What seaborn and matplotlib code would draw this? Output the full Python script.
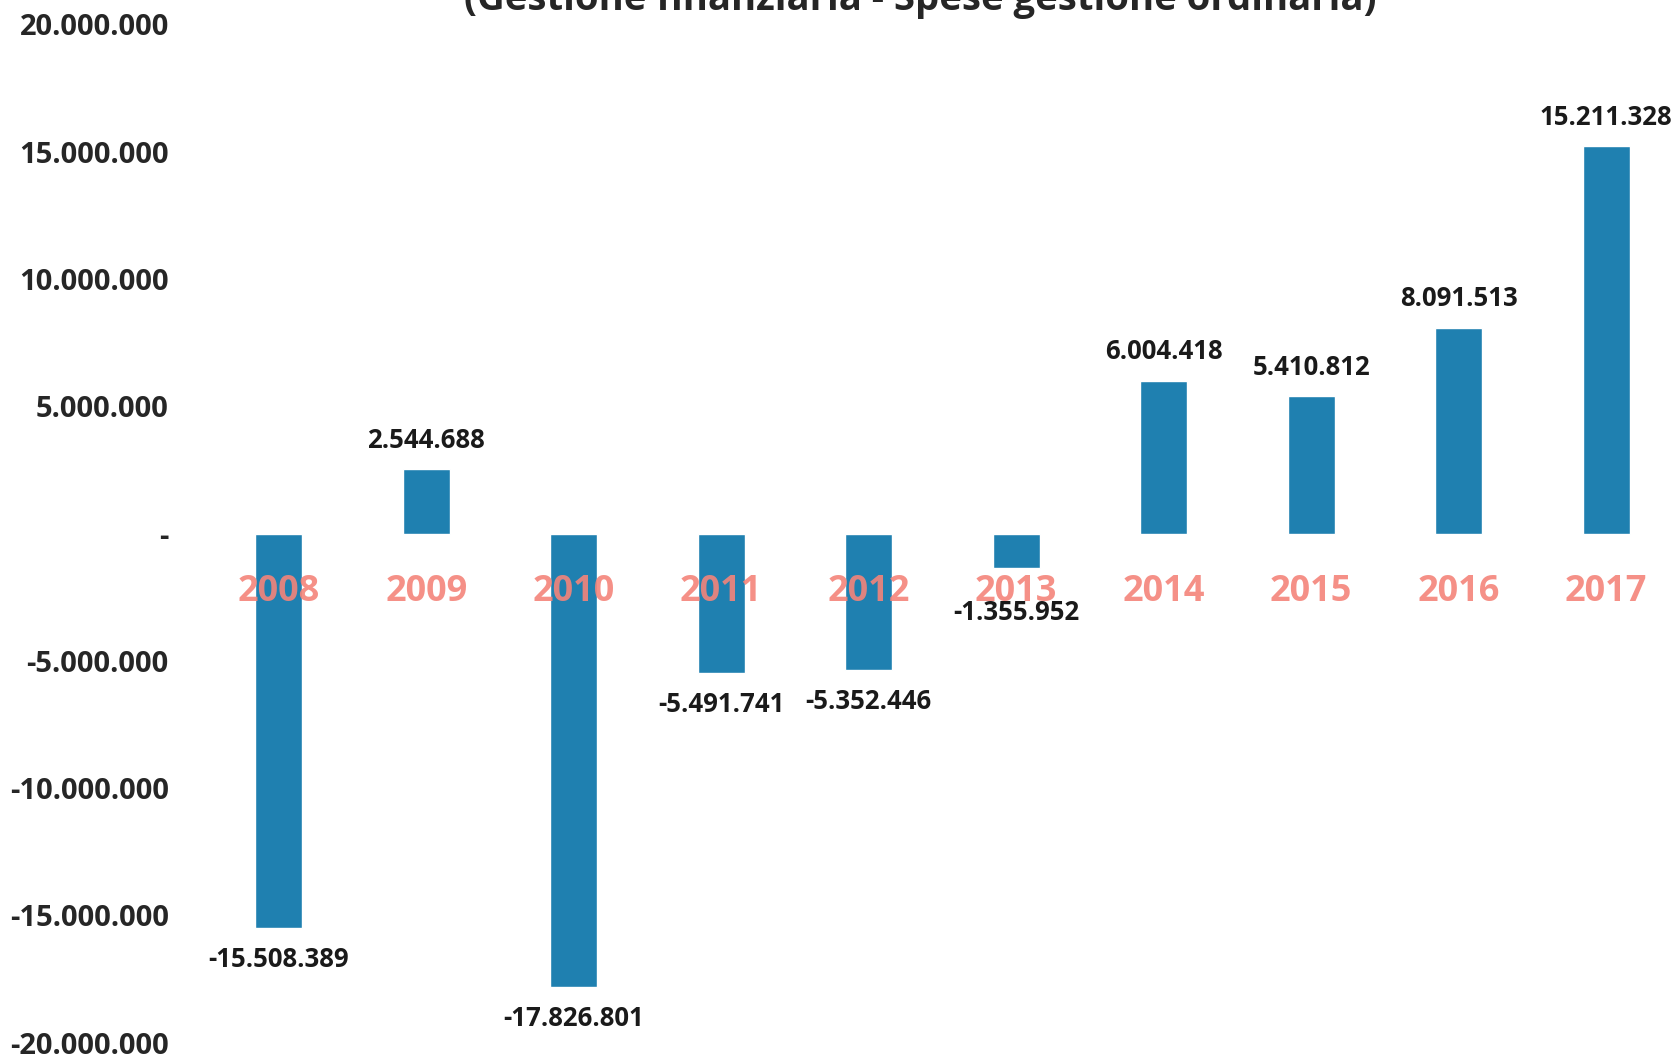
import pandas as pd
import seaborn as sns
import matplotlib.pyplot as plt
from matplotlib.ticker import FixedLocator

# data
years = ["2008", "2009", "2010", "2011", "2012", "2013", "2014", "2015", "2016", "2017"]
values = [-15508389, 2544688, -17826801, -5491741, -5352446, -1355952, 6004418, 5410812, 8091513, 15211328]
value_labels = ["-15.508.389", "2.544.688", "-17.826.801", "-5.491.741", "-5.352.446",
                "-1.355.952", "6.004.418", "5.410.812", "8.091.513", "15.211.328"]
ytick_values = [20000000, 15000000, 10000000, 5000000, 0, -5000000, -10000000, -15000000, -20000000]
ytick_labels = ["20.000.000", "15.000.000", "10.000.000", "5.000.000", "-",
                "-5.000.000", "-10.000.000", "-15.000.000", "-20.000.000"]
title = "(Gestione finanziaria - Spese gestione ordinaria)"

df = pd.DataFrame({"Anno": years, "Valore": values})

sns.set_style("white")
plt.rcParams["font.family"] = ["Open Sans", "DejaVu Sans"]

fig, ax = plt.subplots(figsize=(16.8, 10.64), dpi=100)
fig.subplots_adjust(left=0.122, right=1.0, top=0.977, bottom=0.02)

sns.barplot(data=df, x="Anno", y="Valore", color="#1f80b0", saturation=1, width=0.32, ax=ax)

ax.set_ylim(-20000000, 20000000)
ax.yaxis.set_major_locator(FixedLocator(ytick_values))
ax.set_yticklabels(ytick_labels, fontsize=21, fontweight="bold", color="#262626")
ax.tick_params(axis="y", length=0, pad=26)
ax.set_xticks([])
ax.set_xlabel("")
ax.set_ylabel("")
sns.despine(left=True, bottom=True)

# year labels just below zero
for i, yr in enumerate(years):
    ax.text(i, -2300000, yr, ha="center", va="center", fontsize=26, fontweight="bold",
            color="#f4847a", alpha=0.9, zorder=3)

# value labels
for i, (v, lab) in enumerate(zip(values, value_labels)):
    if v >= 0:
        ax.text(i, v + 600000, lab, ha="center", va="bottom", fontsize=18.5,
                fontweight="bold", color="#1a1a1a", zorder=4)
    else:
        off = 1200000 if v > -3000000 else 700000
        ax.text(i, v - off, lab, ha="center", va="top", fontsize=18.5,
                fontweight="bold", color="#1a1a1a", zorder=4)

fig.text(0.548, 1.0, title, ha="center", va="center", fontsize=27.5, fontweight="bold",
         color="#262626")

fig.savefig("out.png", dpi=100, facecolor="white")
